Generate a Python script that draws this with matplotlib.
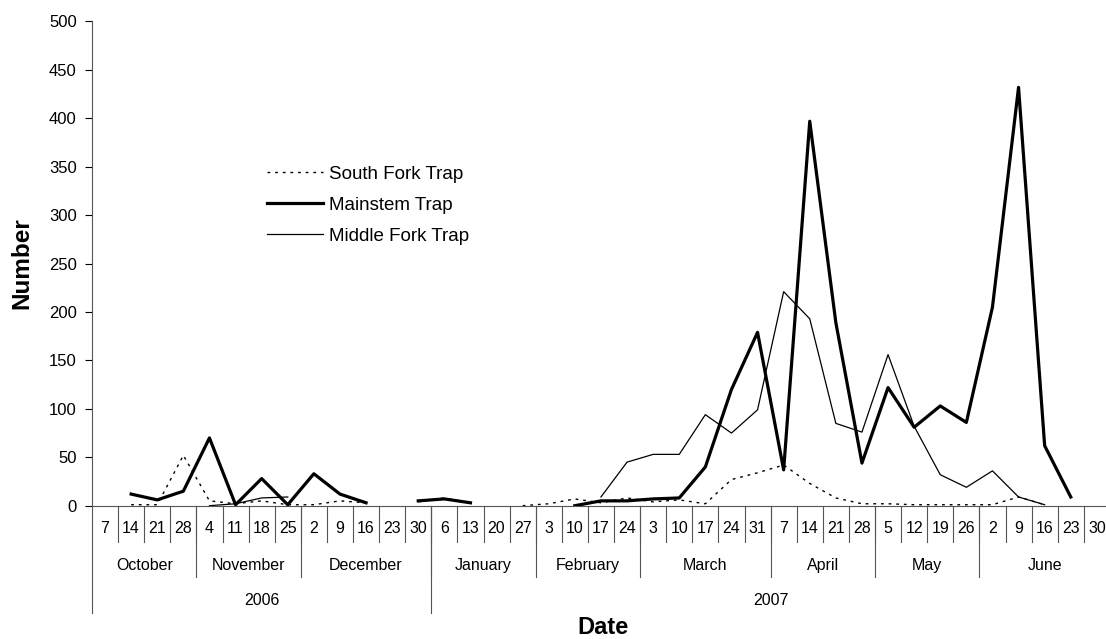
import numpy as np
import matplotlib.pyplot as plt
from matplotlib.transforms import blended_transform_factory

plt.rcParams['font.family'] = ['Liberation Sans', 'DejaVu Sans']

nan = np.nan

# weekly dates, Oct 2006 - Jun 2007
days = ['7', '14', '21', '28', '4', '11', '18', '25', '2', '9', '16', '23', '30',
        '6', '13', '20', '27', '3', '10', '17', '24', '3', '10', '17', '24', '31',
        '7', '14', '21', '28', '5', '12', '19', '26', '2', '9', '16', '23', '30']
months = ['October', 'November', 'December', 'January', 'February', 'March',
          'April', 'May', 'June']
month_weeks = [4, 4, 5, 4, 4, 5, 4, 4, 5]
years = ['2006', '2007']
year_weeks = [13, 26]

south_fork = [nan, 1, 1, 52, 5, 2, 5, 1, 1, 5, 3, nan, 4, 8, 3, nan, 0, 2, 7, 3,
              8, 4, 6, 2, 27, 34, 42, 23, 8, 2, 2, 1, 1, 1, 1, 9, 1, nan, nan]
mainstem = [nan, 12, 6, 15, 70, 1, 28, 1, 33, 12, 3, nan, 5, 7, 3, nan, nan, nan, 0, 5,
            5, 7, 8, 40, 120, 179, 37, 397, 189, 44, 122, 81, 103, 86, 205, 432, 62, 9, nan]
middle_fork = [nan, nan, nan, nan, 0, 2, 8, 9, nan, nan, nan, nan, nan, nan, nan, nan, nan,
               nan, nan, 9, 45, 53, 53, 94, 75, 99, 221, 193, 85, 76, 156, 82, 32, 19, 36,
               9, 1, nan, nan]

fig = plt.figure(figsize=(11.06, 6.39), dpi=100)
ax = fig.add_axes([92 / 1106, 1 - 505.7 / 639, 39 * 26.1 / 1106, 484.2 / 639])

x = np.arange(len(days))
ax.plot(x, south_fork, color='black', lw=1.0, linestyle=(0, (2, 3.5)), label='South Fork Trap')
ax.plot(x, mainstem, color='black', lw=2.3, label='Mainstem Trap')
ax.plot(x, middle_fork, color='black', lw=0.9, label='Middle Fork Trap')

ax.set_xlim(-0.5, len(days) - 0.5)
ax.set_ylim(0, 500)
ax.set_yticks(np.arange(0, 501, 50))
ax.tick_params(axis='y', direction='out', length=5, width=0.8, labelsize=12, pad=6)
ax.set_xticks([])
for s in ['top', 'right']:
    ax.spines[s].set_visible(False)
ax.spines['left'].set_color('#555555')
ax.spines['bottom'].set_color('#555555')

# hierarchical category axis
tr = blended_transform_factory(ax.transData, ax.transAxes)
day_depth, month_depth, year_depth = -0.0744, -0.147, -0.2216
for i, d in enumerate(days):
    ax.text(i, -0.048, d, transform=tr, ha='center', va='center', fontsize=11.5)
for i in range(len(days) - 1):
    ax.plot([i + 0.5, i + 0.5], [0, day_depth], transform=tr, color='#555555',
            lw=0.8, clip_on=False)

start = -0.5
for m, n in zip(months, month_weeks):
    end = start + n
    ax.text((start + end) / 2, -0.1225, m, transform=tr, ha='center', va='center',
            fontsize=11.5)
    ax.plot([end, end], [0, month_depth], transform=tr, color='#555555', lw=0.8,
            clip_on=False)
    start = end

start = -0.5
ax.plot([start, start], [0, year_depth], transform=tr, color='#555555', lw=0.8,
        clip_on=False)
for yr, n in zip(years, year_weeks):
    end = start + n
    ax.text((start + end) / 2, -0.195, yr, transform=tr, ha='center', va='center',
            fontsize=11.5)
    ax.plot([end, end], [0, year_depth], transform=tr, color='#555555', lw=0.8,
            clip_on=False)
    start = end

fig.text(22 / 1106, 1 - 263 / 639, 'Number', fontsize=17.5, fontweight='bold',
         rotation=90, ha='center', va='center')
fig.text(603 / 1106, 1 - 627 / 639, 'Date', fontsize=17, fontweight='bold',
         ha='center', va='center')

ax.legend(loc='upper left', bbox_to_anchor=(266.7 / 1106, 1 - 165.5 / 639),
          bbox_transform=fig.transFigure, frameon=False, fontsize=13.5,
          handlelength=3.0, handletextpad=0.3, labelspacing=0.75,
          borderpad=0, borderaxespad=0)

fig.savefig('out.png', dpi=100)
